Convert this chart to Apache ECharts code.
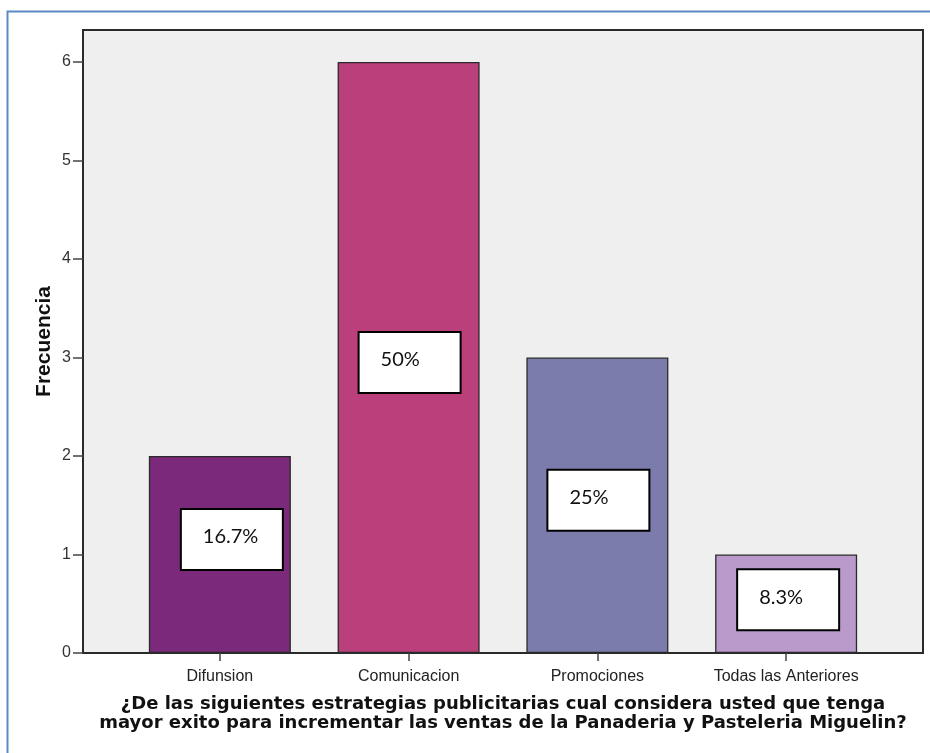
<!DOCTYPE html>
<html>
<head>
<meta charset="utf-8">
<script src="https://cdn.jsdelivr.net/npm/echarts@6/dist/echarts.min.js"></script>
<style>
  html, body { margin: 0; padding: 0; background: #fff; }
  #chart { width: 930px; height: 753px; }
</style>
</head>
<body>
<div id="chart"></div>
<script>
// Survey answers: preferred advertising strategy
const categories = ['Difunsion', 'Comunicacion', 'Promociones', 'Todas las Anteriores'];
const frequencies = [2, 6, 3, 1];
const percentLabels = ['16.7%', '50%', '25%', '8.3%'];
const barColors = ['#7b2a7b', '#bb3f7a', '#7b7cab', '#b99acb'];
const yTicks = [0, 1, 2, 3, 4, 5, 6];

// nudges for the percentage boxes relative to the bar centre
const labelOffsets = [[12, -15], [1, 5], [1, -5], [2, -4]];

const chart = echarts.init(document.getElementById('chart'));

const barData = frequencies.map((v, i) => ({
  value: [i, v],
  itemStyle: { color: barColors[i] },
  label: { offset: labelOffsets[i], formatter: '{t|' + percentLabels[i] + '}' }
}));

chart.setOption({
  animation: false,
  graphic: [{
    type: 'rect',
    shape: { x: 7.5, y: 11.5, width: 1000, height: 1000 },
    style: { fill: 'none', stroke: '#5a8ac6', lineWidth: 2 },
    silent: true
  }],
  grid: {
    left: 83, top: 30, width: 840, height: 623,
    show: true,
    backgroundColor: '#efefef',
    borderColor: '#2a2a2a',
    borderWidth: 2
  },
  xAxis: {
    type: 'value',
    min: -0.725,
    max: 3.725,
    splitLine: { show: false },
    axisLine: { show: true, onZero: false, lineStyle: { color: '#2a2a2a', width: 2 } },
    axisTick: { show: true, customValues: [0, 1, 2, 3], length: 8, lineStyle: { color: '#444', width: 1.5 } },
    axisLabel: {
      customValues: [0, 1, 2, 3],
      formatter: v => categories[v] || '',
      color: '#222',
      fontFamily: 'Liberation Sans, Arial, sans-serif',
      fontSize: 16,
      margin: 16
    },
    name: '¿De las siguientes estrategias publicitarias cual considera usted que tenga\nmayor exito para incrementar las ventas de la Panaderia y Pasteleria Miguelin?',
    nameLocation: 'middle',
    nameGap: 42,
    nameMoveOverlap: false,
    nameTextStyle: {
      fontFamily: 'DejaVu Sans, Verdana, sans-serif',
      fontWeight: 'bold',
      fontSize: 18,
      color: '#111',
      lineHeight: 19
    }
  },
  yAxis: {
    type: 'value',
    min: 0,
    max: 6.325,
    splitLine: { show: false },
    axisLine: { show: true, onZero: false, lineStyle: { color: '#2a2a2a', width: 2 } },
    axisTick: { show: true, customValues: yTicks, length: 10, lineStyle: { color: '#444', width: 1.5 } },
    axisLabel: {
      customValues: yTicks,
      color: '#333',
      fontFamily: 'Liberation Sans, Arial, sans-serif',
      fontSize: 16,
      margin: 12
    },
    name: 'Frecuencia',
    nameLocation: 'middle',
    nameGap: 28,
    nameMoveOverlap: false,
    nameTextStyle: {
      fontFamily: 'Liberation Sans, Arial, sans-serif',
      fontWeight: 'bold',
      fontSize: 21,
      color: '#111'
    }
  },
  series: [{
    type: 'bar',
    barWidth: 142,
    data: barData,
    itemStyle: { borderColor: '#2a2a2a', borderWidth: 1.3 },
    label: {
      show: true,
      position: 'inside',
      backgroundColor: '#fff',
      borderColor: '#000',
      borderWidth: 2,
      width: 79,
      height: 30,
      padding: [12, 0, 17, 21],
      rich: {
        t: {
          align: 'left',
          fontFamily: 'Lato, Open Sans, sans-serif',
          fontSize: 20,
          color: '#111',
          lineHeight: 30
        }
      }
    }
  }]
});
</script>
</body>
</html>
